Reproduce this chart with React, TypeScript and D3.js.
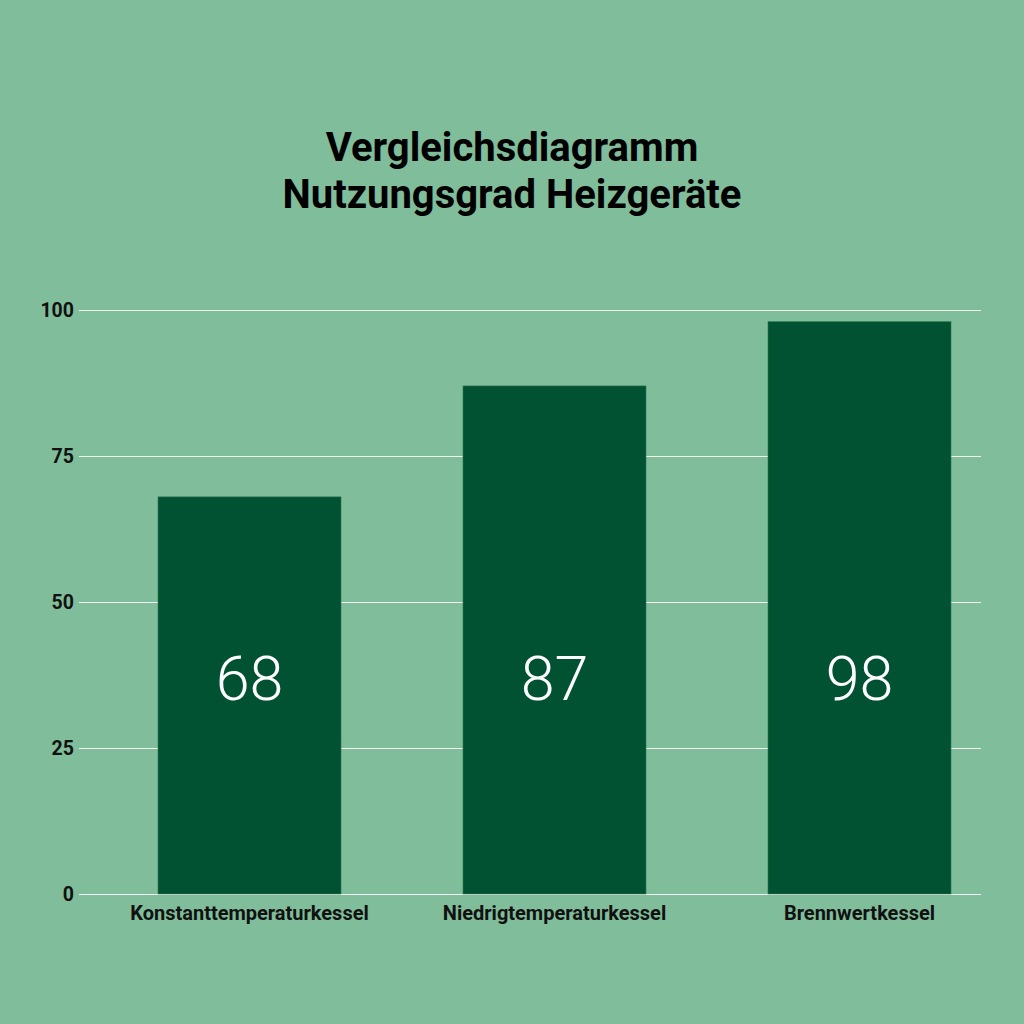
import React, { useEffect, useRef } from 'react';
import * as d3 from 'd3';

const categories = ['Konstanttemperaturkessel', 'Niedrigtemperaturkessel', 'Brennwertkessel'];
const values = [68, 87, 98];
const yTicks = [0, 25, 50, 75, 100];
const titleLines = ['Vergleichsdiagramm', 'Nutzungsgrad Heizgeräte'];

export default function App() {
  const svgRef = useRef<SVGSVGElement>(null);

  useEffect(() => {
    const svg = d3.select(svgRef.current);
    svg.selectAll('*').remove();

    const width = 1024;
    const height = 1024;
    const font = 'Roboto, sans-serif';

    svg.attr('width', width).attr('height', height);

    // Hintergrund
    svg.append('rect').attr('width', width).attr('height', height).attr('fill', '#80bd9a');

    // Titel
    svg.append('text')
      .attr('x', 512)
      .attr('text-anchor', 'middle')
      .style('font-family', font)
      .style('font-weight', 700)
      .style('font-size', '40px')
      .attr('fill', '#000')
      .selectAll('tspan')
      .data(titleLines)
      .enter()
      .append('tspan')
      .attr('x', 512)
      .attr('y', (d, i) => 161 + i * 47)
      .text(d => d);

    // Skalen
    const yScale = d3.scaleLinear().domain([0, 100]).range([894, 310]);
    const xScale = d3.scaleBand<string>()
      .domain(categories)
      .range([97, 1012])
      .paddingInner(0.4)
      .paddingOuter(0.2);

    // Gitter
    const grid = svg.append('g');
    grid.selectAll('line')
      .data(yTicks)
      .enter()
      .append('line')
      .attr('x1', 79)
      .attr('x2', 981)
      .attr('y1', d => yScale(d) + 0.5)
      .attr('y2', d => yScale(d) + 0.5)
      .attr('stroke', '#f2f2f2')
      .attr('stroke-width', 1);

    grid.selectAll('text')
      .data(yTicks)
      .enter()
      .append('text')
      .attr('x', 74)
      .attr('y', d => yScale(d) + 6.5)
      .attr('text-anchor', 'end')
      .style('font-family', font)
      .style('font-weight', 700)
      .style('font-size', '19.5px')
      .attr('fill', '#111')
      .text(d => d);

    // Balken
    const data = categories.map((c, i) => ({ c, v: values[i] }));
    svg.append('g')
      .selectAll('rect')
      .data(data)
      .enter()
      .append('rect')
      .attr('x', d => xScale(d.c)!)
      .attr('y', d => yScale(d.v))
      .attr('width', xScale.bandwidth())
      .attr('height', d => yScale(0) - yScale(d.v))
      .attr('fill', '#015232')
      .attr('stroke', '#2e7a52')
      .attr('stroke-width', 0.6);

    // Werte
    svg.append('g')
      .selectAll('text')
      .data(data)
      .enter()
      .append('text')
      .attr('x', d => xScale(d.c)! + xScale.bandwidth() / 2)
      .attr('y', 700)
      .attr('text-anchor', 'middle')
      .style('font-family', font)
      .style('font-weight', 300)
      .style('font-size', '61px')
      .attr('fill', '#fff')
      .text(d => d.v);

    // Kategorien
    svg.append('g')
      .selectAll('text')
      .data(categories)
      .enter()
      .append('text')
      .attr('x', d => xScale(d)! + xScale.bandwidth() / 2)
      .attr('y', 920)
      .attr('text-anchor', 'middle')
      .style('font-family', font)
      .style('font-weight', 700)
      .style('font-size', '20px')
      .attr('fill', '#111')
      .text(d => d);
  }, []);

  return <svg ref={svgRef} style={{ display: 'block', position: 'absolute', left: 0, top: 0 }}></svg>;
}
